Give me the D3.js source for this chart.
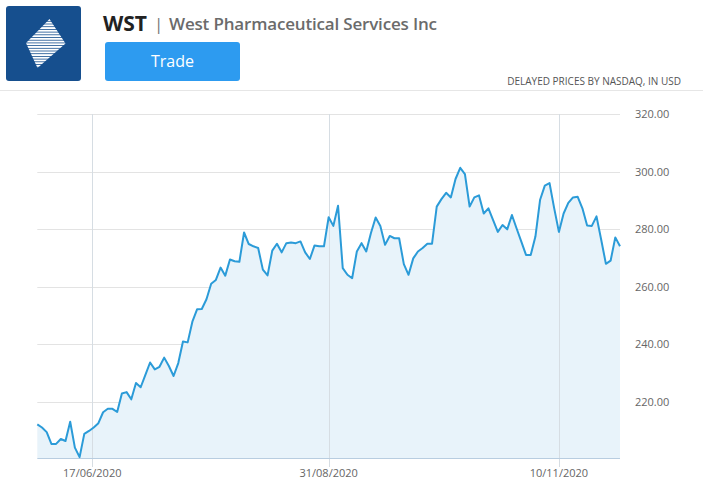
<!DOCTYPE html>
<html>
<head>
<meta charset="utf-8">
<title>WST chart</title>
<script src="https://d3js.org/d3.v7.min.js"></script>
<style>
  body { margin: 0; background: #fff; }
  svg { display: block; font-family: "Open Sans", sans-serif; }
</style>
</head>
<body>
<div id="chart"></div>
<script>
// closing prices, one per trading day (June - Nov 2020)
var prices = [
  212.1, 211.0, 209.4, 205.3, 205.3, 207.0, 206.3, 213.0, 204.0, 200.7,
  208.8, 209.8, 211.0, 212.5, 216.3, 217.5, 217.5, 216.4, 222.8, 223.3,
  220.8, 226.5, 225.0, 229.3, 233.6, 231.2, 232.1, 235.3, 232.4, 228.9,
  233.4, 240.9, 240.6, 247.8, 252.1, 252.2, 255.6, 261.0, 262.3, 266.6,
  263.8, 269.4, 268.8, 268.6, 278.8, 274.8, 274.0, 273.4, 265.9, 263.9,
  272.5, 274.9, 271.9, 275.1, 275.3, 275.1, 275.7, 271.9, 269.6, 274.3,
  274.0, 274.0, 284.1, 281.1, 288.1, 266.4, 264.1, 262.9, 272.2, 275.1,
  272.2, 278.6, 284.0, 281.1, 274.5, 277.6, 276.8, 276.8, 267.8, 264.1,
  269.8, 272.2, 273.4, 274.9, 274.9, 287.8, 290.4, 292.6, 291.0, 297.4,
  301.3, 299.1, 287.8, 291.0, 291.7, 285.4, 287.2, 283.1, 279.0, 281.4,
  279.9, 284.9, 280.2, 275.6, 271.0, 271.0, 277.4, 290.2, 295.1, 296.0,
  287.2, 279.0, 285.4, 289.1, 291.0, 291.2, 287.2, 281.2, 281.1, 284.4,
  276.3, 267.9, 269.0, 277.1, 274.0
];

// x-axis date labels and the trading day they sit on
var dateTicks = [11.7, 62, 111];
var dateLabels = ["17/06/2020", "31/08/2020", "10/11/2020"];

// price gridlines
var priceTicks = [220, 240, 260, 280, 300, 320];

var width = 703, height = 486;

var svg = d3.select("#chart").append("svg")
    .attr("width", width)
    .attr("height", height);

// ---- header ----
var logo = svg.append("g");
logo.append("rect")
    .attr("x", 6).attr("y", 6)
    .attr("width", 75).attr("height", 75)
    .attr("rx", 3)
    .attr("fill", "#164f8e");

var defs = svg.append("defs");
defs.append("clipPath").attr("id", "diamond")
    .append("path")
    .attr("d", "M49.5,19 L65.5,43.5 L37.5,68 L26,43 Z");

var stripes = logo.append("g").attr("clip-path", "url(#diamond)");
d3.range(19, 69, 2.7).forEach(function(y) {
    stripes.append("rect")
        .attr("x", 20).attr("y", y)
        .attr("width", 50).attr("height", 1.9)
        .attr("fill", "#fff");
});

svg.append("text")
    .attr("x", 103).attr("y", 31)
    .attr("font-size", 21).attr("font-weight", 700)
    .attr("fill", "#222")
    .text("WST");

svg.append("text")
    .attr("x", 154).attr("y", 30)
    .attr("font-size", 17)
    .attr("fill", "#777")
    .text("|");

svg.append("text")
    .attr("x", 169).attr("y", 30)
    .attr("font-size", 17).attr("font-weight", 600)
    .attr("textLength", 268)
    .attr("fill", "#6b6b6b")
    .text("West Pharmaceutical Services Inc");

svg.append("rect")
    .attr("x", 105).attr("y", 42)
    .attr("width", 135).attr("height", 39)
    .attr("rx", 3)
    .attr("fill", "#2d9bf0");

svg.append("text")
    .attr("x", 172.5).attr("y", 67)
    .attr("text-anchor", "middle")
    .attr("font-size", 16)
    .attr("fill", "#fff")
    .text("Trade");

svg.append("text")
    .attr("x", 681).attr("y", 85)
    .attr("text-anchor", "end")
    .attr("font-size", 10)
    .attr("fill", "#555")
    .text("DELAYED PRICES BY NASDAQ, IN USD");

svg.append("line")
    .attr("x1", 0).attr("x2", width)
    .attr("y1", 90.5).attr("y2", 90.5)
    .attr("stroke", "#e6e6e6");

// ---- chart ----
var x = d3.scaleLinear()
    .domain([0, prices.length - 1])
    .range([37.3, 620]);

var y = d3.scaleLinear()
    .domain([200.4, 320])
    .range([458, 114]);

var grid = svg.append("g");

grid.selectAll("line.h")
    .data(priceTicks)
    .enter().append("line")
    .attr("class", "h")
    .attr("x1", x(0)).attr("x2", x(prices.length - 1))
    .attr("y1", function(d) { return Math.round(y(d)) + 0.5; })
    .attr("y2", function(d) { return Math.round(y(d)) + 0.5; })
    .attr("stroke", "#e3e3e3");

grid.selectAll("text")
    .data(priceTicks)
    .enter().append("text")
    .attr("x", 635)
    .attr("y", function(d) { return y(d) + 4; })
    .attr("font-size", 11)
    .attr("fill", "#666")
    .text(d3.format(".2f"));

var area = d3.area()
    .x(function(d, i) { return x(i); })
    .y0(y.range()[0])
    .y1(function(d) { return y(d); });

var line = d3.line()
    .x(function(d, i) { return x(i); })
    .y(function(d) { return y(d); });

svg.append("path")
    .datum(prices)
    .attr("d", area)
    .attr("fill", "#e8f3fa");

// vertical date gridlines drawn over the fill
svg.selectAll("line.v")
    .data(dateTicks)
    .enter().append("line")
    .attr("class", "v")
    .attr("x1", function(d) { return Math.round(x(d)) + 0.5; })
    .attr("x2", function(d) { return Math.round(x(d)) + 0.5; })
    .attr("y1", 114).attr("y2", 467)
    .attr("stroke", "#d6dde3");

svg.append("line")
    .attr("x1", x(0)).attr("x2", x(prices.length - 1))
    .attr("y1", 458.5).attr("y2", 458.5)
    .attr("stroke", "#b8cde0");

svg.append("path")
    .datum(prices)
    .attr("d", line)
    .attr("fill", "none")
    .attr("stroke", "#2b9bd8")
    .attr("stroke-width", 2)
    .attr("stroke-linejoin", "round");

svg.selectAll("text.date")
    .data(dateTicks)
    .enter().append("text")
    .attr("class", "date")
    .attr("x", function(d) { return x(d); })
    .attr("y", 477)
    .attr("text-anchor", "middle")
    .attr("font-size", 11)
    .attr("fill", "#666")
    .text(function(d, i) { return dateLabels[i]; });
</script>
</body>
</html>
